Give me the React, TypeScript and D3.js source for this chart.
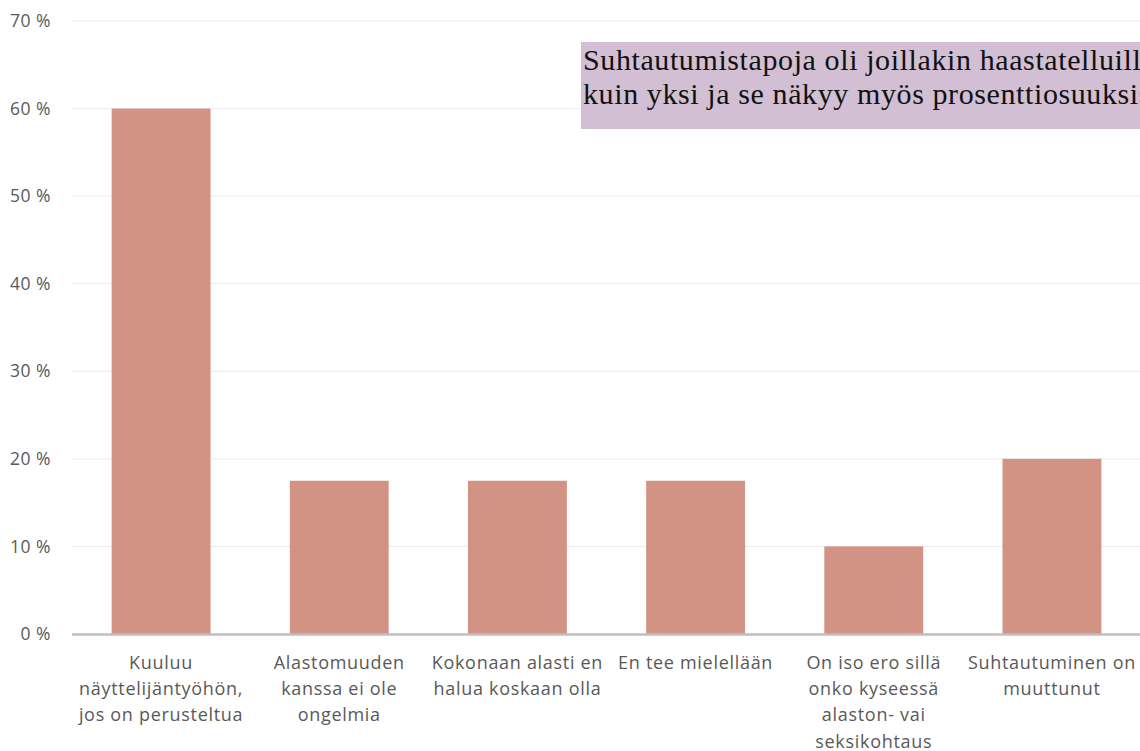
import React, { useEffect, useRef } from "react";
import * as d3 from "d3";

// category labels, already broken into lines as in the chart
const categories: string[][] = [
  ["Kuuluu", "näyttelijäntyöhön,", "jos on perusteltua"],
  ["Alastomuuden", "kanssa ei ole", "ongelmia"],
  ["Kokonaan alasti en", "halua koskaan olla"],
  ["En tee mielellään"],
  ["On iso ero sillä", "onko kyseessä", "alaston- vai", "seksikohtaus"],
  ["Suhtautuminen on", "muuttunut"],
];
const values: number[] = [60, 17.5, 17.5, 17.5, 10, 20];
const yTicks: number[] = [0, 10, 20, 30, 40, 50, 60, 70];
const noteLines: string[] = [
  "Suhtautumistapoja oli joillakin haastatelluilla useampi",
  "kuin yksi ja se näkyy myös prosenttiosuuksissa",
];

const W = 1140;
const H = 751;

export default function App() {
  const ref = useRef<SVGSVGElement | null>(null);

  useEffect(() => {
    const svg = d3.select(ref.current);
    svg.selectAll("*").remove();

    const left = 72;
    const right = 1141;
    const top = 21;
    const bottom = 634;
    const font = "'Open Sans', 'Liberation Sans', sans-serif";

    const x = d3
      .scaleBand<number>()
      .domain(categories.map((_, i) => i))
      .range([left, right])
      .paddingInner(0.445)
      .paddingOuter(0.2225);

    const y = d3.scaleLinear().domain([0, 70]).range([bottom, top]);

    // gridlines
    svg
      .append("g")
      .selectAll("line")
      .data(yTicks.filter((t) => t > 0))
      .enter()
      .append("line")
      .attr("x1", left)
      .attr("x2", W)
      .attr("y1", (d) => y(d))
      .attr("y2", (d) => y(d))
      .attr("stroke", "#ebebeb")
      .attr("stroke-width", 1);

    // y labels
    svg
      .append("g")
      .selectAll("text")
      .data(yTicks)
      .enter()
      .append("text")
      .attr("x", 51)
      .attr("y", (d) => y(d))
      .attr("dy", "0.35em")
      .attr("text-anchor", "end")
      .attr("font-family", font)
      .attr("font-size", 17.5)
      .attr("letter-spacing", 0.5)
      .attr("fill", "#595959")
      .text((d) => `${d} %`);

    // bars
    svg
      .append("g")
      .selectAll("rect")
      .data(values)
      .enter()
      .append("rect")
      .attr("x", (_, i) => x(i) as number)
      .attr("y", (d) => y(d))
      .attr("width", x.bandwidth())
      .attr("height", (d) => bottom - y(d))
      .attr("fill", "#d29385");

    // baseline
    svg
      .append("line")
      .attr("x1", left)
      .attr("x2", W)
      .attr("y1", bottom + 0.5)
      .attr("y2", bottom + 0.5)
      .attr("stroke", "#bfbfbf")
      .attr("stroke-width", 2.5);

    // category labels
    const cat = svg
      .append("g")
      .selectAll("text")
      .data(categories)
      .enter()
      .append("text")
      .attr("text-anchor", "middle")
      .attr("font-family", font)
      .attr("font-size", 18)
      .attr("letter-spacing", 0.7)
      .attr("fill", "#595959");
    cat.each(function (lines, i) {
      const cx = (x(i) as number) + x.bandwidth() / 2;
      d3.select(this)
        .selectAll("tspan")
        .data(lines)
        .enter()
        .append("tspan")
        .attr("x", cx)
        .attr("y", (_, j) => 669 + j * 26.2)
        .text((d) => d);
    });

    // note box
    svg
      .append("rect")
      .attr("x", 581)
      .attr("y", 42)
      .attr("width", W - 581 + 200)
      .attr("height", 87)
      .attr("fill", "#d2bfd3");
    svg
      .append("g")
      .selectAll("text")
      .data(noteLines)
      .enter()
      .append("text")
      .attr("x", 583)
      .attr("y", (_, i) => 70 + i * 34)
      .attr("font-family", "'Liberation Serif', 'DejaVu Serif', serif")
      .attr("font-size", 30)
      .attr("letter-spacing", 0.6)
      .attr("fill", "#111")
      .text((d) => d);
  }, []);

  return (
    <svg
      ref={ref}
      width={W}
      height={H}
      style={{ position: "absolute", left: 0, top: 0, background: "#fff" }}
    />
  );
}
